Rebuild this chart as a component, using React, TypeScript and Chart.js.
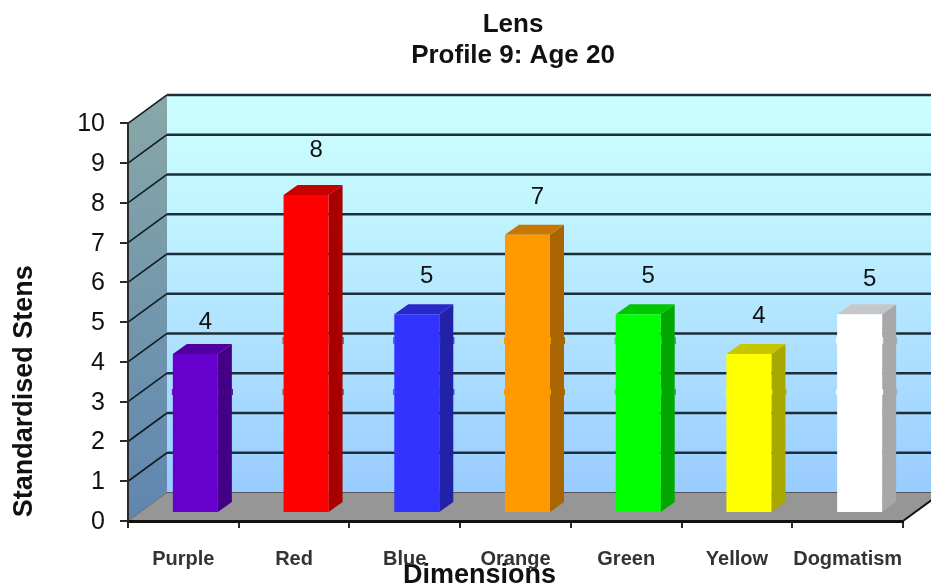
import React, { useEffect, useRef } from "react";
import { Chart, registerables } from "chart.js";

Chart.register(...registerables);

const categories = ["Purple", "Red", "Blue", "Orange", "Green", "Yellow", "Dogmatism"];
const stens = [4, 8, 5, 7, 5, 4, 5];
const barColors = ["#6600CC", "#FF0000", "#3333FF", "#FF9900", "#00FF00", "#FFFF00", "#FFFFFF"];
const labelLift = [32, 45, 38, 37, 38, 38, 35];
const titleLines = ["Lens", "Profile 9: Age 20"];
const yAxisTitle = "Standardised Stens";
const xAxisTitle = "Dimensions";

const FONT = "'Liberation Sans', Arial, sans-serif";
const DEPTH_X = 39;
const DEPTH_Y = 28.5;
const BAR_DX = 12;
const BAR_DY = 8;
const BAR_DEPTH_X = 14;
const BAR_DEPTH_Y = 10;
const GRID = "#1c2e38";
const AXIS = "#2a2a2a";
const SEAMS = [[345, 352], [397, 403]];

function shade(hex: string, f: number) {
  const n = parseInt(hex.slice(1), 16);
  const r = Math.round(((n >> 16) & 255) * f);
  const g = Math.round(((n >> 8) & 255) * f);
  const b = Math.round((n & 255) * f);
  return `rgb(${r},${g},${b})`;
}

function poly(ctx: CanvasRenderingContext2D, pts: number[][], fill: any) {
  ctx.beginPath();
  pts.forEach(([x, y], i) => (i ? ctx.lineTo(x, y) : ctx.moveTo(x, y)));
  ctx.closePath();
  ctx.fillStyle = fill;
  ctx.fill();
}

const roomPlugin = {
  id: "room",
  afterLayout(chart: any) {
    chart.titleBlock.left = 95;
    chart.titleBlock.right = 931;
  },
  beforeDraw(chart: any) {
    const { ctx, chartArea: a, scales } = chart;
    const y = scales.y;
    const W = chart.width + 60;
    const backTop = a.top - DEPTH_Y;
    const backBottom = a.bottom - DEPTH_Y;
    ctx.save();
    const wall = ctx.createLinearGradient(0, backTop, 0, backBottom);
    wall.addColorStop(0, "#CCFFFF");
    wall.addColorStop(0.25, "#C4F6FF");
    wall.addColorStop(1, "#99CCFF");
    ctx.fillStyle = wall;
    ctx.fillRect(a.left + DEPTH_X, backTop, W, backBottom - backTop);
    const side = ctx.createLinearGradient(0, backTop, 0, a.bottom);
    side.addColorStop(0, "#88A8A8");
    side.addColorStop(1, "#5F86B0");
    poly(ctx, [[a.left, a.top], [a.left + DEPTH_X, backTop], [a.left + DEPTH_X, backBottom], [a.left, a.bottom]], side);
    poly(ctx, [[a.left, a.bottom], [a.left + DEPTH_X, backBottom], [W, backBottom], [a.right + DEPTH_X, backBottom], [a.right, a.bottom]], "#969696");
    y.ticks.forEach((t: any) => {
      const py = y.getPixelForValue(t.value);
      const floor = t.value === 0;
      ctx.lineWidth = floor ? 1 : 1.6;
      ctx.strokeStyle = floor ? "#6a6a6a" : "#111c22";
      ctx.beginPath();
      ctx.moveTo(a.left, py);
      ctx.lineTo(a.left + DEPTH_X, py - DEPTH_Y);
      ctx.stroke();
      ctx.lineWidth = floor ? 1 : 2.5;
      ctx.strokeStyle = floor ? "#555" : GRID;
      ctx.beginPath();
      ctx.moveTo(a.left + DEPTH_X, py - DEPTH_Y);
      ctx.lineTo(W, py - DEPTH_Y);
      ctx.stroke();
    });
    ctx.lineWidth = 2;
    ctx.strokeStyle = "#111";
    ctx.beginPath();
    ctx.moveTo(a.right, a.bottom);
    ctx.lineTo(a.right + DEPTH_X, backBottom);
    ctx.stroke();
    ctx.restore();
  },
  beforeDatasetDraw(chart: any, args: any) {
    const { ctx } = chart;
    const meta = chart.getDatasetMeta(args.index);
    ctx.save();
    ctx.translate(BAR_DX, -BAR_DY);
    meta.data.forEach((el: any, i: number) => {
      const p = el.getProps(["x", "y", "base", "width"], true);
      const r = p.x + p.width / 2;
      const l = p.x - p.width / 2;
      const c = barColors[i];
      poly(ctx, [[r, p.y], [r + BAR_DEPTH_X, p.y - BAR_DEPTH_Y], [r + BAR_DEPTH_X, p.base - BAR_DEPTH_Y], [r, p.base]], shade(c, 0.66));
      poly(ctx, [[l, p.y], [l + BAR_DEPTH_X, p.y - BAR_DEPTH_Y], [r + BAR_DEPTH_X, p.y - BAR_DEPTH_Y], [r, p.y]], shade(c, 0.78));
      SEAMS.forEach(([a, b]) => {
        if (a < p.y) return;
        ctx.fillStyle = c;
        ctx.fillRect(l - 1, a, 1, b - a);
        ctx.fillRect(r, a, 1, b - a);
        ctx.fillStyle = shade(c, 0.66);
        ctx.fillRect(r + BAR_DEPTH_X, a, 1, b - a);
      });
    });
  },
  afterDatasetDraw(chart: any, args: any) {
    const { ctx } = chart;
    const meta = chart.getDatasetMeta(args.index);
    const ds = chart.data.datasets[args.index];
    meta.data.forEach((el: any, i: number) => {
      const p = el.getProps(["x", "y"], true);
      ctx.font = `24px ${FONT}`;
      ctx.fillStyle = "#111";
      ctx.textAlign = "center";
      ctx.textBaseline = "middle";
      ctx.fillText(String(ds.data[i]), p.x + 10, p.y - labelLift[i]);
    });
    ctx.restore();
  },
};

function shiftTitle(dx: number, dy: number) {
  return (scale: any) => {
    if (scale.__shifted) return;
    scale.__shifted = true;
    const orig = scale.drawTitle;
    scale.drawTitle = function (...rest: any[]) {
      this.ctx.save();
      this.ctx.translate(dx, dy);
      orig.apply(this, rest);
      this.ctx.restore();
    };
  };
}

export default function App() {
  const ref = useRef<HTMLCanvasElement>(null);
  useEffect(() => {
    document.body.style.margin = "0";
    const chart = new Chart(ref.current as HTMLCanvasElement, {
      type: "bar",
      data: {
        labels: categories,
        datasets: [
          {
            data: stens,
            backgroundColor: barColors,
            borderWidth: 0,
            categoryPercentage: 1,
            barPercentage: 0.4065,
            clip: false,
          } as any,
        ],
      },
      plugins: [roomPlugin],
      options: {
        responsive: false,
        animation: false,
        layout: { padding: { left: 0, right: 28, top: 0, bottom: 0 } },
        plugins: {
          legend: { display: false },
          tooltip: { enabled: false },
          title: {
            display: true,
            text: titleLines,
            color: "#111",
            font: { family: FONT, size: 26, weight: "bold", lineHeight: 1.2 },
            padding: { top: 9, bottom: 52 },
          },
        },
        scales: {
          x: {
            afterFit: (s: any) => {
              s.height = 62;
            },
            afterUpdate: shiftTitle(-36, 9),
            grid: { drawOnChartArea: false, drawTicks: true, tickLength: 7, color: AXIS, lineWidth: 2 },
            border: { color: "#111", width: 3 },
            ticks: {
              maxRotation: 0,
              autoSkip: false,
              padding: 19,
              color: "#333",
              font: { family: FONT, size: 20, weight: "bold" },
            },
            title: {
              display: true,
              text: xAxisTitle,
              color: "#111",
              font: { family: FONT, size: 27, weight: "bold" },
              padding: { top: 0, bottom: 0 },
            },
          },
          y: {
            min: 0,
            max: 10,
            afterFit: (s: any) => {
              s.width = 128;
            },
            afterUpdate: shiftTitle(0, 69),
            grid: { drawOnChartArea: false, drawTicks: true, tickLength: 8, color: AXIS, lineWidth: 2 },
            border: { color: AXIS, width: 2 },
            ticks: {
              stepSize: 1,
              padding: 15,
              labelOffset: 1,
              color: "#111",
              font: { family: FONT, size: 25 },
            },
            title: {
              display: true,
              text: yAxisTitle,
              color: "#111",
              font: { family: FONT, size: 27, weight: "bold" },
              padding: { top: 8, bottom: 0 },
            },
          },
        },
      } as any,
    });
    return () => chart.destroy();
  }, []);
  return (
    <div style={{ width: 931, height: 583, overflow: "hidden" }}>
      <canvas ref={ref} width={931} height={583} style={{ display: "block", filter: "blur(0.5px)" }} />
    </div>
  );
}
